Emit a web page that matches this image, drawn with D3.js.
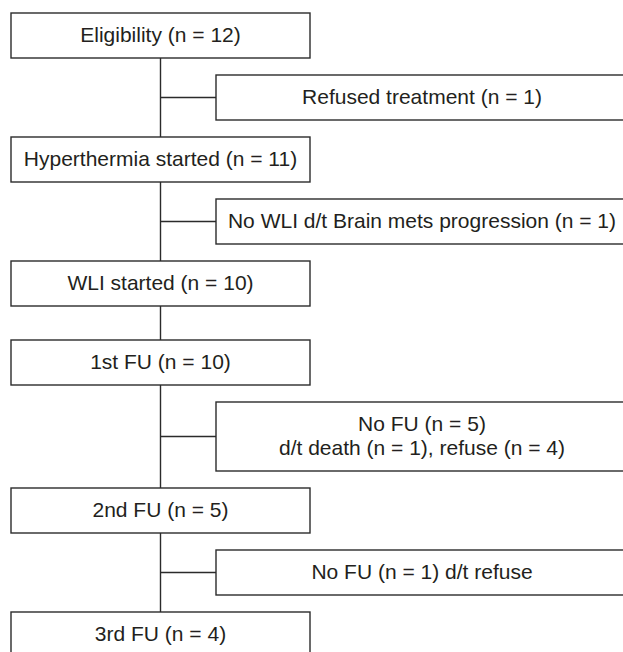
<!DOCTYPE html>
<html>
<head>
<meta charset="utf-8">
<script src="https://cdn.jsdelivr.net/npm/d3@7"></script>
<style>
  body { margin: 0; background: #fff; }
  svg { display: block; }
  text { font-family: "Liberation Sans", Arial, sans-serif; font-size: 21px; fill: #231f20; }
</style>
</head>
<body>
<svg id="chart"></svg>
<script>
// flow steps, top to bottom
const steps = [
  'Eligibility (n = 12)',
  'Hyperthermia started (n = 11)',
  'WLI started (n = 10)',
  '1st FU (n = 10)',
  '2nd FU (n = 5)',
  '3rd FU (n = 4)'
];
// exclusions, each one hangs off the step with the same index
const exclusions = [
  ['Refused treatment (n = 1)'],
  ['No WLI d/t Brain mets progression (n = 1)'],
  null,
  ['No FU (n = 5)', 'd/t death (n = 1), refuse (n = 4)'],
  ['No FU (n = 1) d/t refuse'],
  null
];

const width = 623;
const height = 652;
const boxH = 45;
const lineH = 24;
const gap = 17;
const startY = 13;
const mainX = 11, mainW = 299;
const sideX = 216, sideW = 412;   // right edge runs off the page
const spineX = mainX + mainW / 2;

const svg = d3.select('#chart')
  .attr('width', width)
  .attr('height', height);

// build layout by stacking boxes down the page
const nodes = [];
let y = startY;
steps.forEach((s, i) => {
  nodes.push({ kind: 'main', lines: [s], y: y, h: boxH });
  y += boxH + gap;
  const ex = exclusions[i];
  if (ex) {
    const h = boxH + (ex.length - 1) * lineH;
    nodes.push({ kind: 'side', lines: ex, y: y, h: h });
    y += h + gap;
  } else {
    y += gap;
  }
});
const mains = nodes.filter(d => d.kind === 'main');
const sides = nodes.filter(d => d.kind === 'side');

const stroke = '#2b2b2b';

// spine
svg.append('line')
  .attr('x1', spineX).attr('x2', spineX)
  .attr('y1', mains[0].y + boxH)
  .attr('y2', mains[mains.length - 1].y)
  .attr('stroke', stroke)
  .attr('stroke-width', 1.4);

// branches to exclusion boxes
svg.selectAll('line.branch')
  .data(sides)
  .join('line')
  .attr('class', 'branch')
  .attr('x1', spineX).attr('x2', sideX)
  .attr('y1', d => d.y + d.h / 2)
  .attr('y2', d => d.y + d.h / 2)
  .attr('stroke', stroke)
  .attr('stroke-width', 1.4);

const g = svg.selectAll('g.node')
  .data(nodes)
  .join('g')
  .attr('class', 'node')
  .attr('transform', d => `translate(${d.kind === 'main' ? mainX : sideX},${d.y})`);

g.append('rect')
  .attr('width', d => d.kind === 'main' ? mainW : sideW)
  .attr('height', d => d.h)
  .attr('fill', '#fff')
  .attr('stroke', stroke)
  .attr('stroke-width', 1.4);

g.each(function (d) {
  const w = d.kind === 'main' ? mainW : sideW;
  const n = d.lines.length;
  d3.select(this).selectAll('text')
    .data(d.lines)
    .join('text')
    .attr('x', w / 2)
    .attr('y', (t, i) => d.h / 2 + (i - (n - 1) / 2) * lineH)
    .attr('dy', '0.3em')
    .attr('text-anchor', 'middle')
    .text(t => t);
});
</script>
</body>
</html>
